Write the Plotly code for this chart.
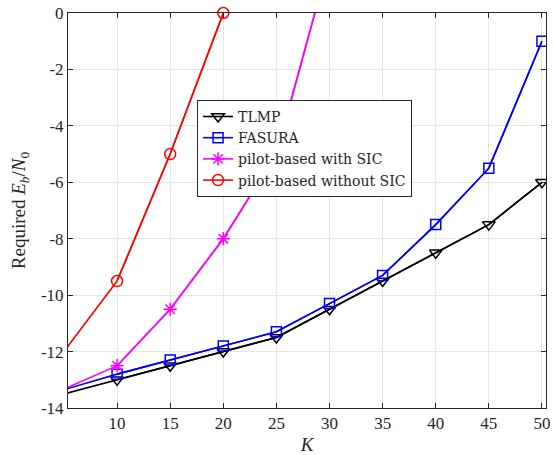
import plotly.graph_objects as go

K = [5, 10, 15, 20, 25, 30, 35, 40, 45, 50]
tlmp = [-13.5, -13.0, -12.5, -12.0, -11.5, -10.5, -9.5, -8.5, -7.5, -6.0]
fasura = [-13.35, -12.8, -12.3, -11.8, -11.3, -10.3, -9.3, -7.5, -5.5, -1.0]
K_pilot_sic = [5, 10, 15, 20, 25, 30]
pilot_sic = [-13.33, -12.5, -10.5, -8.0, -5.0, 1.9]
K_pilot_nosic = [5, 10, 15, 20]
pilot_nosic = [-12.0, -9.5, -5.0, 0.0]

x_ticks = [10, 15, 20, 25, 30, 35, 40, 45, 50]
y_ticks = [-14, -12, -10, -8, -6, -4, -2, 0]
y_ticktext = ["-14", "-12", "-10", "-8", "-6", "-4", "-2", "0"]

FONT = "Liberation Serif"
LFONT = "DejaVu Serif"
INK = "#262626"

series = [
    ("TLMP", K, tlmp, "black", "triangle-down-open", 11, True),
    ("FASURA", K, fasura, "#0000ff", "square-open", 10, True),
    ("pilot-based with SIC", K_pilot_sic, pilot_sic, "#ff00ff", "asterisk-open", 11, True),
    ("pilot-based without SIC", K_pilot_nosic, pilot_nosic, "#ff0000", "circle-open", 11, False),
]

fig = go.Figure()
for name, xs, ys, col, sym, sz, clip in series:
    # full line (the first point, at K=5, carries no marker in the reference)
    fig.add_trace(go.Scatter(x=xs, y=ys, mode="lines", showlegend=False,
                             line=dict(color=col, width=1.6), hoverinfo="skip"))
    fig.add_trace(go.Scatter(x=xs[1:], y=ys[1:], name=name, mode="lines+markers",
                             cliponaxis=clip,
                             line=dict(color=col, width=1.6),
                             marker=dict(symbol=sym, size=sz, color=col,
                                         line=dict(width=1.5, color=col))))

axis_common = dict(showline=True, linecolor=INK, linewidth=1, mirror="ticks",
                   ticks="inside", ticklen=5, tickcolor=INK, automargin=False,
                   showgrid=True, gridcolor="#e6e6e6", gridwidth=1, zeroline=False,
                   tickfont=dict(family=FONT, size=17, color=INK))

fig.update_xaxes(range=[5.38, 50.38], tickvals=x_ticks,
                 title=dict(text="<i>K</i>", font=dict(family=FONT, size=19, color=INK),
                            standoff=8),
                 **axis_common)
fig.update_yaxes(range=[-14, 0], tickvals=y_ticks, ticktext=y_ticktext,
                 title=dict(text="Required <i>E</i><sub><i>b</i></sub>/<i>N</i><sub>0</sub>",
                            font=dict(family=FONT, size=19, color=INK), standoff=10),
                 **axis_common)

fig.update_layout(
    width=553, height=455,
    margin=dict(l=68, r=7, t=13, b=47),
    paper_bgcolor="white", plot_bgcolor="white",
    font=dict(family=FONT, color=INK),
    legend=dict(x=0.27, y=0.78, xanchor="left", yanchor="top",
                bgcolor="white", bordercolor=INK, borderwidth=1,
                font=dict(family=LFONT, size=14, color=INK),
                tracegroupgap=0, itemwidth=30),
    showlegend=True,
)

fig.write_html("out.html")
